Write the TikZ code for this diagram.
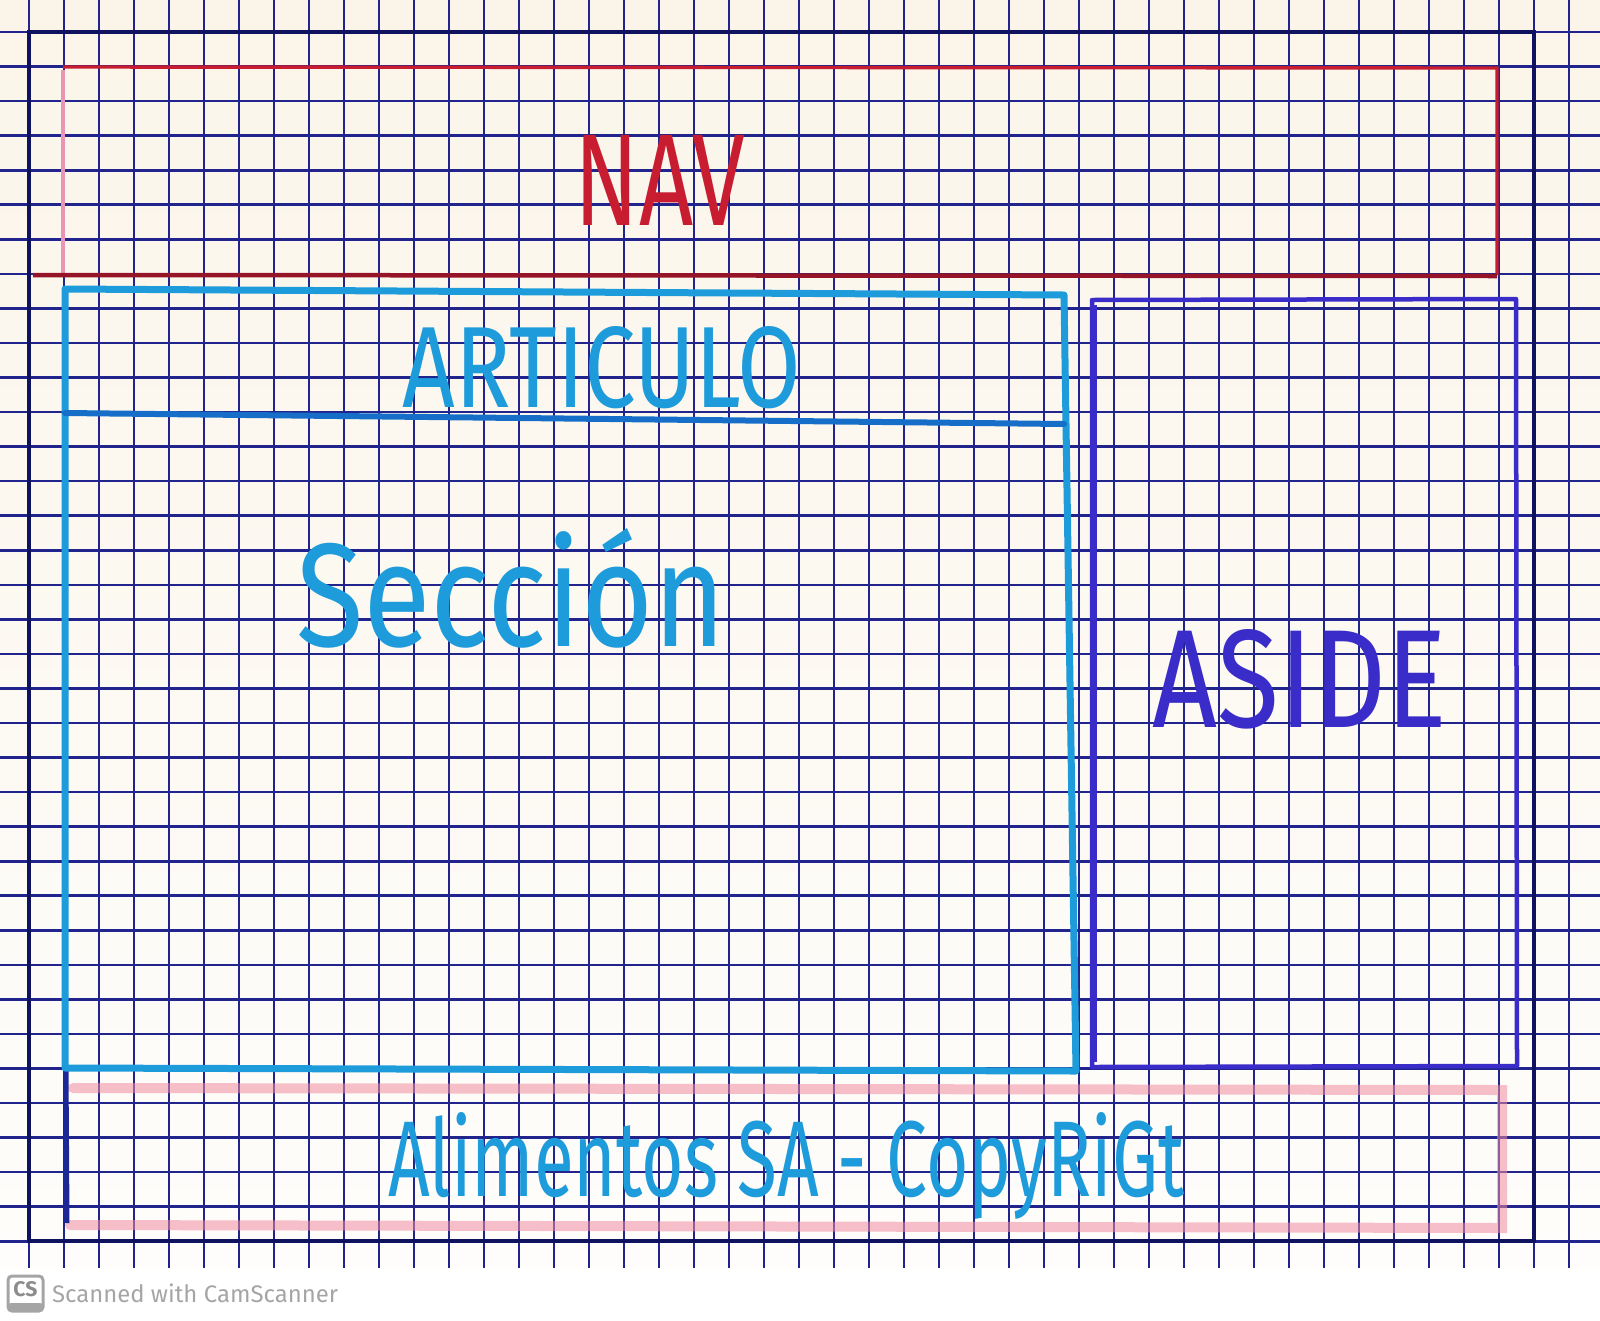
\documentclass[tikz,border=0pt]{standalone}
\usepackage{fontspec}
\setmainfont{Fira Sans}
\usepackage{graphicx}
\definecolor{gridc}{RGB}{32,36,140}
\definecolor{outerc}{RGB}{14,18,95}
\definecolor{paperA}{RGB}{251,245,233}
\definecolor{paperB}{RGB}{254,253,251}
\definecolor{navred}{RGB}{200,28,48}
\definecolor{navdark}{RGB}{150,20,40}
\definecolor{navpink}{RGB}{232,150,180}
\definecolor{artc}{RGB}{30,155,218}
\definecolor{artdark}{RGB}{22,110,200}
\definecolor{asidec}{RGB}{58,44,200}
\definecolor{footpink}{RGB}{240,140,160}
\definecolor{footblue}{RGB}{28,40,150}
\definecolor{camgray}{RGB}{165,165,165}
\tikzset{
  gridline/.style={draw=gridc, line width=2.6pt},
  outerline/.style={draw=outerc, line width=4.5pt},
  navline/.style={draw=navred, line width=3.4pt},
  artline/.style={draw=artc, line width=7pt, line join=round, line cap=round},
  asideline/.style={draw=asidec, line width=4.5pt, line join=round},
  footline/.style={draw=footpink, line width=10pt, opacity=0.55, line cap=round},
  label/.style={inner sep=0pt, outer sep=0pt}
}
\begin{document}
\begin{tikzpicture}[x=1pt,y=-1pt]
\useasboundingbox (0,0) rectangle (1600,1320);
\fill[white] (0,0) rectangle (1600,1320);
\shade[top color=paperA, bottom color=paperB] (0,0) rectangle (1600,1268);
% grid
\foreach \k in {0,...,35} \draw[gridline] (0,{32+34.55*\k}) -- (1600,{32+34.55*\k});
\foreach \k in {0,...,44} \draw[gridline] ({29+35*\k},0) -- ({29+35*\k},1268);
\draw[outerline] (29,32) rectangle (1534,1241);
% NAV box
\draw[navpink, line width=4pt] (63,70) -- (63,274);
\draw[navline] (63,67) -- (1497,68) -- (1497,275);
\draw[navdark, line width=4.5pt] (33,275) -- (1497,276);
% footer highlight
\draw[footline] (73,1088) -- (1502,1090) -- (1502,1228) -- (70,1225);
\draw[footblue, line width=5pt] (66,1068) -- (67,1223);
% article / section box
\draw[artline] (65,289) -- (1064,295) -- (1076,1071) -- (65,1068) -- cycle;
\draw[artdark, line width=6pt, line cap=round] (65,413) -- (1064,424);
% aside box
\draw[asideline] (1092,300) -- (1516,299) -- (1517,1066) -- (1092,1067) -- cycle;
\draw[asidec, line width=7pt] (1093,305) -- (1093,1062);
% texts
\node[label, text=navred] (nav) at (660,180) {\resizebox{170pt}{90pt}{NAV}};
\node[label, text=artc] (articulo) at (602,368) {\resizebox{398pt}{81pt}{ARTICULO}};
\node[label, text=artc, anchor=base west] (seccion) at (296,646) {\resizebox{430pt}{118pt}{Sección}};
\node[label, text=asidec] (aside) at (1300,679) {\resizebox{294pt}{98pt}{ASIDE}};
\node[label, text=artc, anchor=base west] (footer) at (388,1196) {\resizebox{796pt}{84pt}{Alimentos SA - CopyRiGt}};
% CamScanner mark
\draw[camgray, line width=3pt, rounded corners=4pt] (8,1276) rectangle (43,1311);
\fill[camgray, rounded corners=3pt] (8,1303) rectangle (43,1311);
\node[label, text=camgray!85!black] (cs) at (25.5,1289) {\resizebox{24pt}{15pt}{\bfseries CS}};
\node[label, text=camgray, anchor=base west] (cam) at (52,1302) {\resizebox{286pt}{!}{Scanned with CamScanner}};
\end{tikzpicture}
\end{document}
